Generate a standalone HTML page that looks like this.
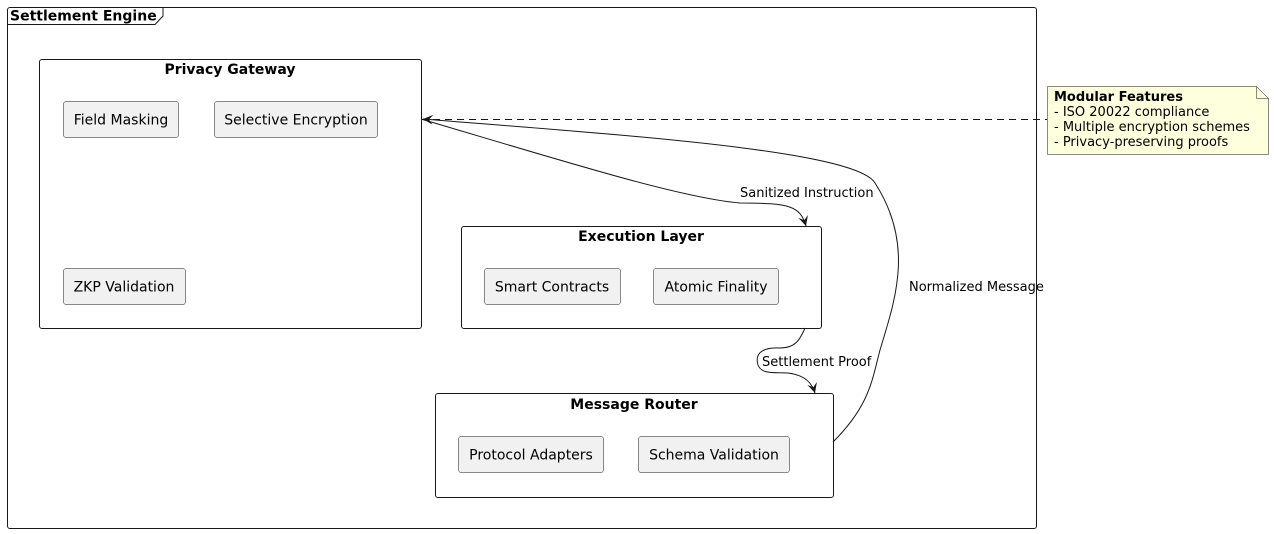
<!DOCTYPE html>
<html><head><meta charset="utf-8"><style>html,body{margin:0;padding:0;background:#fff}svg{display:block}</style></head><body>
<svg width="1274" height="534" viewBox="0 0 1274 534" xmlns="http://www.w3.org/2000/svg" font-family="DejaVu Sans, Liberation Sans, sans-serif">
<defs>
<marker id="ah" markerWidth="12" markerHeight="12" refX="10" refY="5" orient="auto" markerUnits="userSpaceOnUse">
<path d="M0,0 L10,5 L0,10 L4,5 Z" fill="#181818"/></marker>
</defs>
<rect x="7.5" y="7.5" width="1029" height="521" rx="2.5" fill="none" stroke="#181818"/>
<path d="M7.5,24.5 L155,24.5 L163,16 L163,7.5" fill="none" stroke="#181818"/>
<text x="10" y="20.5" font-size="14" font-weight="bold">Settlement Engine</text>

<rect x="39.5" y="59.5" width="382" height="269" rx="2.5" fill="#fff" stroke="#181818"/>
<text x="230" y="74" font-size="14" font-weight="bold" text-anchor="middle">Privacy Gateway</text>
<g font-size="14" fill="#000">
<rect x="63.5" y="101.5" width="115" height="36" rx="2.5" fill="#f1f1f1" stroke="#181818" stroke-width="0.5"/>
<text x="121" y="124.5" text-anchor="middle">Field Masking</text>
<rect x="214.5" y="101.5" width="163" height="36" rx="2.5" fill="#f1f1f1" stroke="#181818" stroke-width="0.5"/>
<text x="296" y="124.5" text-anchor="middle">Selective Encryption</text>
<rect x="63.5" y="268.5" width="122" height="36" rx="2.5" fill="#f1f1f1" stroke="#181818" stroke-width="0.5"/>
<text x="124" y="291.5" text-anchor="middle">ZKP Validation</text>
</g>

<rect x="461.5" y="226.5" width="360" height="102" rx="2.5" fill="#fff" stroke="#181818"/>
<text x="641" y="241" font-size="14" font-weight="bold" text-anchor="middle">Execution Layer</text>
<g font-size="14">
<rect x="484.5" y="268.5" width="136" height="36" rx="2.5" fill="#f1f1f1" stroke="#181818" stroke-width="0.5"/>
<text x="552" y="291.5" text-anchor="middle">Smart Contracts</text>
<rect x="653.5" y="268.5" width="125" height="36" rx="2.5" fill="#f1f1f1" stroke="#181818" stroke-width="0.5"/>
<text x="716" y="291.5" text-anchor="middle">Atomic Finality</text>
</g>

<rect x="435.5" y="393.5" width="398" height="104" rx="2.5" fill="#fff" stroke="#181818"/>
<text x="634" y="409" font-size="14" font-weight="bold" text-anchor="middle">Message Router</text>
<g font-size="14">
<rect x="458.5" y="436.5" width="145" height="36" rx="2.5" fill="#f1f1f1" stroke="#181818" stroke-width="0.5"/>
<text x="531" y="459.5" text-anchor="middle">Protocol Adapters</text>
<rect x="638.5" y="436.5" width="151" height="36" rx="2.5" fill="#f1f1f1" stroke="#181818" stroke-width="0.5"/>
<text x="714" y="459.5" text-anchor="middle">Schema Validation</text>
</g>

<!-- edges -->
<path d="M421,119 C560,160 680,198 740,203 C790,203 800,206 806,226" fill="none" stroke="#181818" marker-end="url(#ah)"/>
<path d="M833,442 C870,405 872,380 880,350 C895,300 915,245 875,183 C855,150 620,135 423,119" fill="none" stroke="#181818" marker-end="url(#ah)"/>
<path d="M805,328 C800,340 795,348 780,348 C760,347 755,355 758,365 C762,375 775,372 788,373 C805,375 812,383 815,393" fill="none" stroke="#181818" marker-end="url(#ah)"/>
<line x1="421" y1="119.5" x2="1047" y2="119.5" stroke="#181818" stroke-dasharray="7,5"/>
<g font-size="13">
<text x="740" y="197">Sanitized Instruction</text>
<text x="762" y="366">Settlement Proof</text>
<text x="909" y="291">Normalized Message</text>
</g>

<path d="M1047.5,86.5 L1256.5,86.5 L1268.5,98.5 L1268.5,154.5 L1047.5,154.5 Z" fill="#feffdd" stroke="#181818" stroke-width="0.5"/>
<path d="M1256.5,86.5 L1256.5,98.5 L1268.5,98.5" fill="none" stroke="#181818" stroke-width="0.5"/>
<g font-size="13">
<text x="1054" y="101" font-weight="bold">Modular Features</text>
<text x="1054" y="116">- ISO 20022 compliance</text>
<text x="1054" y="131">- Multiple encryption schemes</text>
<text x="1054" y="146">- Privacy-preserving proofs</text>
</g>
</svg>
</body></html>
